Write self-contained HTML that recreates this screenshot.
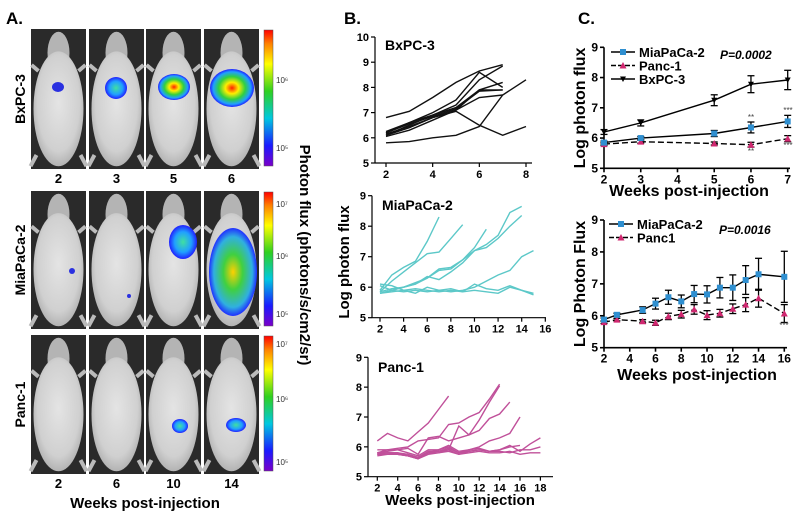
<!DOCTYPE html>
<html><head><meta charset="utf-8"><style>
body{margin:0;background:#fff}
svg{display:block;font-family:"Liberation Sans",Arial,sans-serif}
</style></head><body>
<svg id="fig" width="800" height="519" viewBox="0 0 800 519" xmlns="http://www.w3.org/2000/svg">
<defs>
<linearGradient id="cb" x1="0" y1="1" x2="0" y2="0">
<stop offset="0" stop-color="#7a00c8"/><stop offset="0.15" stop-color="#1a1aff"/><stop offset="0.35" stop-color="#00c8e0"/><stop offset="0.55" stop-color="#30d020"/><stop offset="0.75" stop-color="#ffff00"/><stop offset="0.9" stop-color="#ff8000"/><stop offset="1" stop-color="#ff0000"/>
</linearGradient>
<radialGradient id="blob"><stop offset="0" stop-color="#ff2000"/><stop offset="0.3" stop-color="#ffee00"/><stop offset="0.6" stop-color="#30d040"/><stop offset="0.85" stop-color="#20a0ff"/><stop offset="1" stop-color="#2020ff"/></radialGradient>
<radialGradient id="blobM"><stop offset="0" stop-color="#ffd000"/><stop offset="0.4" stop-color="#40d040"/><stop offset="0.8" stop-color="#30b0e0"/><stop offset="1" stop-color="#2030ff"/></radialGradient>
<radialGradient id="blobS"><stop offset="0" stop-color="#40e0a0"/><stop offset="0.6" stop-color="#20a0ff"/><stop offset="1" stop-color="#2020ff"/></radialGradient>
<radialGradient id="body" cx="0.5" cy="0.45" r="0.6"><stop offset="0" stop-color="#e4e4e4"/><stop offset="0.7" stop-color="#d0d0d0"/><stop offset="1" stop-color="#a8a8a8"/></radialGradient>
</defs>
<text x="6" y="24" font-size="17" font-weight="bold">A.</text>
<text x="344" y="24" font-size="17" font-weight="bold">B.</text>
<text x="578" y="24" font-size="17" font-weight="bold">C.</text>
<g id="pa"></g>
<g id="pb"></g>
<g id="pc"></g>
</svg>
<script>
// ---------- Panel B data ----------
const bxWeeks=[2,3,4,5,6,7,8];
const bxSeries=[
[6.8,7.05,7.6,8.2,8.65,8.9],
[5.8,5.85,6.0,6.1,6.45,7.7,8.3],
[6.2,6.6,7.0,7.5,8.6,8.0],
[6.1,6.5,6.9,7.3,8.3,8.85],
[6.15,6.45,6.8,7.1,7.9,8.2],
[6.05,6.3,6.7,7.1,7.6,7.7],
[6.25,6.6,6.9,7.2,7.9,7.9],
[6.1,6.4,6.8,7.05,6.5,6.1,6.45],
[6.2,6.55,6.85,7.15,7.85,7.9]];
const miaWeeks=[2,3,4,5,6,7,8,9,10,11,12,13,14,15];
const miaSeries=[
[5.9,6.4,6.65,6.85,7.5,8.3],
[5.85,6.2,6.5,6.8,7.1,7.15,7.6,8.05],
[5.8,5.9,6.0,6.1,6.3,6.6,6.65,6.9,7.3,7.9],
[5.85,5.95,6.0,6.15,6.3,6.55,6.6,6.9,7.2,7.4,7.7,8.45,8.65],
[5.8,5.9,6.0,6.1,6.35,6.25,6.5,6.8,7.2,7.3,7.6,8.0,8.35],
[6.05,5.9,5.85,5.9,5.85,5.9,5.85,5.9,6.0,6.2,6.4,6.55,7.0,7.2],
[6.1,6.05,5.9,5.8,6.0,5.9,5.95,5.85,6.1,5.95,5.9,6.05,5.9,5.75],
[5.8,5.85,5.9,5.95,5.9,5.85,5.9,5.85,5.9,5.85,5.8,6.0,5.9,5.8]];
const pancWeeks=[2,3,4,5,6,7,8,9,10,11,12,13,14,15,16,17,18];
const pancSeries=[
[6.2,6.45,6.3,6.2,6.5,6.8,7.25,7.7],
[5.8,5.85,5.9,5.95,5.75,6.3,6.35,6.2,6.3,6.4,6.9,7.5,8.05],
[5.8,5.9,5.95,6.0,6.2,6.25,6.3,6.75,6.8,7.0,7.15,7.6,8.1],
[5.75,5.8,5.8,5.7,5.6,5.8,5.85,5.9,6.7,6.4,6.55,6.95,7.1,7.5],
[5.75,5.8,5.75,5.7,5.65,5.8,5.9,6.0,5.8,5.9,6.0,6.2,6.3,6.45,7.0],
[5.7,5.75,5.75,5.7,5.6,5.75,5.8,5.9,5.75,5.85,5.9,5.85,5.9,6.05,5.85,6.1,6.3],
[5.8,5.8,5.8,5.75,5.65,5.85,5.85,5.95,5.8,5.85,5.9,5.85,5.85,5.8,5.9,5.9,6.0],
[5.75,5.75,5.75,5.7,5.6,5.8,5.8,5.85,5.75,5.8,5.85,5.8,5.8,5.85,5.75,5.8,5.8],
[5.9,5.9,5.9,5.8,5.7,5.9,5.9,6.05,5.85,5.9,5.95,5.85,5.9,6.0,6.05]];
// ---------- Panel C data ----------
const cTopWeeks=[2,3,5,6,7];
const cTopMia=[5.85,6.0,6.15,6.35,6.55];
const cTopMiaErr=[0.05,0.05,0.1,0.18,0.2];
const cTopPanc=[5.8,5.88,5.82,5.78,5.98];
const cTopPancErr=[0.05,0.05,0.05,0.08,0.1];
const cTopBx=[6.2,6.5,7.25,7.78,7.92];
const cTopBxErr=[0.08,0.1,0.18,0.28,0.32];
const cBotWeeks=[2,3,5,6,7,8,9,10,11,12,13,14,16];
const cBotMia=[5.88,6.03,6.18,6.38,6.58,6.45,6.68,6.67,6.88,6.88,7.12,7.3,7.22];
const cBotMiaErr=[0.05,0.05,0.1,0.17,0.22,0.2,0.27,0.27,0.32,0.4,0.45,0.5,0.8];
const cBotPanc=[5.8,5.88,5.83,5.78,5.98,6.05,6.2,6.02,6.08,6.22,6.35,6.55,6.07];
const cBotPancErr=[0.04,0.04,0.05,0.08,0.1,0.12,0.15,0.14,0.12,0.15,0.22,0.28,0.28];
const bxTicks=[2,4,6,8], miaTicks=[2,4,6,8,10,12,14,16], pancTicks=[2,4,6,8,10,12,14,16,18];
const cTopTicks=[2,3,4,5,6,7], cBotTicks=[2,4,6,8,10,12,14,16];

const NS="http://www.w3.org/2000/svg";
function mk(parent,tag,attrs,txt){const e=document.createElementNS(NS,tag);for(const k in attrs)e.setAttribute(k,attrs[k]);if(txt!==undefined)e.textContent=txt;parent.appendChild(e);return e;}

// ---------- Panel A ----------
const pa=document.getElementById('pa');
const colsX=[31,89,146,204], colW=55;
const rows=[{y:29,h:140,name:'BxPC-3',labs:['2','3','5','6']},{y:191,h:138,name:'MiaPaCa-2',labs:null},{y:335,h:139,name:'Panc-1',labs:['2','6','10','14']}];
const blobs=[
 [[58,87,6,5,'#2a30e0'],[116,88,11,11,'url(#blobS)'],[174,87,16,13,'url(#blob)'],[232,88,22,19,'url(#blob)']],
 [[72,271,3,3,'#2a30e0'],[129,296,2,2,'#2a30e0'],[183,242,14,17,'url(#blobS)'],[233,272,24,44,'url(#blobM)']],
 [[58,420,0,0,'#000'],[116,420,0,0,'#000'],[180,426,8,7,'url(#blobS)'],[236,425,10,7,'url(#blobS)']]];
rows.forEach((r,ri)=>{
 colsX.forEach((x,ci)=>{
  const g=mk(pa,'g',{});
  
  
  mk(g,'rect',{x:x,y:r.y,width:colW,height:r.h,fill:'#2a2a2a'});
  const cx=x+colW/2;
  mk(g,'ellipse',{cx:cx,cy:r.y+r.h*0.17,rx:11,ry:r.h*0.15,fill:'#b4b4b4'});
  mk(g,'ellipse',{cx:cx,cy:r.y+r.h*0.57,rx:25,ry:r.h*0.41,fill:'url(#body)'});
  mk(g,'path',{d:`M${cx-22} ${r.y+r.h*0.9} l-6 ${r.h*0.08} M${cx+22} ${r.y+r.h*0.9} l6 ${r.h*0.08} M${cx-20} ${r.y+r.h*0.3} l-7 -6 M${cx+20} ${r.y+r.h*0.3} l7 -6`,stroke:'#bbb','stroke-width':4,fill:'none'});
  const b=blobs[ri][ci];
  if(b[2]>0)mk(g,'ellipse',{cx:b[0],cy:b[1],rx:b[2],ry:b[3],fill:b[4]});
 });
 const cb=mk(pa,'rect',{x:264,y:r.y+1,width:9,height:r.h-4,fill:'url(#cb)',stroke:'#555','stroke-width':0.5});
 
 
 const rl=mk(pa,'text',{x:0,y:0,transform:`translate(25,${r.y+r.h/2}) rotate(-90)`,'text-anchor':'middle','font-size':14,'font-weight':'bold'},r.name);
 
 
 if(r.labs){r.labs.forEach((l,i)=>{const t=mk(pa,'text',{x:colsX[i]+colW/2,y:r.y+r.h+14,'text-anchor':'middle','font-size':13,'font-weight':'bold'},l);
  
  });}
});
[[276,83,'10⁶'],[276,151,'10⁵'],[276,207,'10⁷'],[276,259,'10⁶'],[276,317,'10⁵'],[276,347,'10⁷'],[276,402,'10⁶'],[276,465,'10⁵']].forEach(c=>{
 const t=mk(pa,'text',{x:c[0],y:c[1],'font-size':8,fill:'#333'},c[2]);
 
 });
const wx=mk(pa,'text',{x:145,y:508,'text-anchor':'middle','font-size':15,'font-weight':'bold'},'Weeks post-injection');


const pf=mk(pa,'text',{x:0,y:0,transform:'translate(300,255) rotate(90)','text-anchor':'middle','font-size':15,'font-weight':'bold'},'Photon flux (photons/s/cm2/sr)');



// ---------- generic axes ----------
function axes(parent,o){
 const g=mk(parent,'g',{});
 
 
 const X=v=>o.x0+(v-o.xd[0])*(o.x1-o.x0)/(o.xd[1]-o.xd[0]);
 const Y=v=>o.y0+(v-o.yd[0])*(o.y1-o.y0)/(o.yd[1]-o.yd[0]);
 mk(g,'line',{x1:o.ax,y1:Y(o.yd[1]),x2:o.ax,y2:o.y0,stroke:'#000','stroke-width':o.sw||1});
 mk(g,'line',{x1:o.ax,y1:o.y0,x2:o.xend,y2:o.y0,stroke:'#000','stroke-width':o.sw||1});
 for(let v=o.yd[0];v<=o.yd[1];v++){
  mk(g,'line',{x1:o.ax-4,y1:Y(v),x2:o.ax,y2:Y(v),stroke:'#000','stroke-width':o.sw||1});
  const t=mk(g,'text',{x:o.ax-6,y:Y(v)+4,'text-anchor':'end','font-size':o.fs,'font-weight':'bold'},String(v));
  
  
 }
 o.xt.forEach(v=>{
  mk(g,'line',{x1:X(v),y1:o.y0,x2:X(v),y2:o.y0+4,stroke:'#000','stroke-width':o.sw||1});
  const t=mk(g,'text',{x:X(v),y:o.y0+15,'text-anchor':'middle','font-size':o.fs,'font-weight':'bold'},String(v));
  
  
 });
 return {g,X,Y};
}
function pathOf(xs,ys,X,Y){return ys.map((v,i)=>(i?'L':'M')+X(xs[i]).toFixed(1)+' '+Y(v).toFixed(1)).join(' ');}

// ---------- Panel B ----------
const pb=document.getElementById('pb');
const bDefs=[
 {name:'bxpc3-chart',title:'BxPC-3',ax:375,x0:386,x1:526,xd:[2,8],xend:532,y0:163,y1:37,yd:[5,10],xt:bxTicks,weeks:bxWeeks,series:bxSeries,color:'#111',ty:50},
 {name:'miapaca2-chart',title:'MiaPaCa-2',ax:372,x0:380,x1:521.7,xd:[2,14],xend:546,y0:317.7,y1:195.7,yd:[5,9],xt:miaTicks,weeks:miaWeeks,series:miaSeries,color:'#5cc8c8',ty:210},
 {name:'panc1-chart',title:'Panc-1',ax:368,x0:377.3,x1:520,xd:[2,16],xend:553,y0:476.7,y1:357.3,yd:[5,9],xt:pancTicks,weeks:pancWeeks,series:pancSeries,color:'#c0509a',ty:372}];
bDefs.forEach(d=>{
 const a=axes(pb,{name:d.name,ax:d.ax,x0:d.x0,x1:d.x1,xd:d.xd,xend:d.xend,y0:d.y0,y1:d.y1,yd:d.yd,xt:d.xt,fs:11,sw:1.2});
 const tt=mk(a.g,'text',{x:d.ax+10,y:d.ty,'font-size':14,'font-weight':'bold'},d.title);
 
 
 d.series.forEach((s,i)=>{
  const p=mk(a.g,'path',{d:pathOf(d.weeks,s,a.X,a.Y),fill:'none',stroke:d.color,'stroke-width':1.4});
  
  
 });
});
const byt=mk(pb,'text',{x:0,y:0,transform:'translate(349,262) rotate(-90)','text-anchor':'middle','font-size':15,'font-weight':'bold'},'Log photon flux');


const bxt=mk(pb,'text',{x:460,y:505,'text-anchor':'middle','font-size':15,'font-weight':'bold'},'Weeks post-injection');



// ---------- Panel C ----------
const pc=document.getElementById('pc');
const blue='#2f8fd0', pink='#d02870';
function series(a,weeks,vals,errs,color,dash,marker,nm){
 const g=mk(a.g,'g',{});
 
 
 vals.forEach((v,i)=>{const x=a.X(weeks[i]);
  mk(g,'line',{x1:x,y1:a.Y(v-errs[i]),x2:x,y2:a.Y(v+errs[i]),stroke:'#000','stroke-width':1.3});
  mk(g,'line',{x1:x-3.5,y1:a.Y(v-errs[i]),x2:x+3.5,y2:a.Y(v-errs[i]),stroke:'#000','stroke-width':1.3});
  mk(g,'line',{x1:x-3.5,y1:a.Y(v+errs[i]),x2:x+3.5,y2:a.Y(v+errs[i]),stroke:'#000','stroke-width':1.3});});
 mk(g,'path',{d:pathOf(weeks,vals,a.X,a.Y),fill:'none',stroke:'#000','stroke-width':1.4,'stroke-dasharray':dash?'6 3':'none'});
 vals.forEach((v,i)=>{const x=a.X(weeks[i]),y=a.Y(v);
  if(marker==='sq')mk(g,'rect',{x:x-3,y:y-3,width:6,height:6,fill:color});
  else if(marker==='tri')mk(g,'path',{d:`M${x} ${y-3.5}L${x+3.5} ${y+3}L${x-3.5} ${y+3}Z`,fill:color});
  else mk(g,'path',{d:`M${x-3} ${y-2.5}L${x+3} ${y-2.5}L${x} ${y+3}Z`,fill:color});});
}
function legend(parent,x,y,items){
 items.forEach((it,i)=>{const g=mk(parent,'g',{});
  
  
  const yy=y+i*13.5;
  mk(g,'line',{x1:x,y1:yy,x2:x+24,y2:yy,stroke:'#000','stroke-width':1.4,'stroke-dasharray':it[2]?'5 2':'none'});
  if(it[3]==='sq')mk(g,'rect',{x:x+9,y:yy-3,width:6,height:6,fill:it[1]});
  else if(it[3]==='tri')mk(g,'path',{d:`M${x+12} ${yy-3.5}L${x+15.5} ${yy+3}L${x+8.5} ${yy+3}Z`,fill:it[1]});
  else mk(g,'path',{d:`M${x+9} ${yy-2.5}L${x+15} ${yy-2.5}L${x+12} ${yy+3}Z`,fill:it[1]});
  mk(g,'text',{x:x+28,y:yy+5,'font-size':13,'font-weight':'bold'},it[0]);});
}
const cT=axes(pc,{name:'panel-c-top-chart',ax:604,x0:604,x1:787.7,xd:[2,7],xend:790,y0:168.3,y1:47.3,yd:[5,9],xt:cTopTicks,fs:12,sw:1.6});
series(cT,cTopWeeks,cTopPanc,cTopPancErr,pink,true,'tri','series-panc1');
series(cT,cTopWeeks,cTopMia,cTopMiaErr,blue,false,'sq','series-miapaca2');
series(cT,cTopWeeks,cTopBx,cTopBxErr,'#000',false,'inv','series-bxpc3');
legend(cT.g,611,52,[['MiaPaCa-2',blue,false,'sq'],['Panc-1',pink,true,'tri'],['BxPC-3','#000',false,'inv']]);
const p1=mk(cT.g,'text',{x:720,y:59,'font-size':12,'font-weight':'bold','font-style':'italic'},'P=0.0002');


[[751,120,'**'],[751,154,'**'],[788,113,'***'],[788,148,'***']].forEach(s=>{mk(cT.g,'text',{x:s[0],y:s[1],'font-size':8,'text-anchor':'middle',fill:'#444'},s[2]);});
const ct1=mk(pc,'text',{x:0,y:0,transform:'translate(585,108) rotate(-90)','text-anchor':'middle','font-size':16,'font-weight':'bold'},'Log photon flux');


const cx1=mk(pc,'text',{x:689,y:196,'text-anchor':'middle','font-size':16,'font-weight':'bold'},'Weeks post-injection');



const cB=axes(pc,{name:'panel-c-bottom-chart',ax:604,x0:604,x1:784.3,xd:[2,16],xend:787,y0:347.7,y1:220,yd:[5,9],xt:cBotTicks,fs:12,sw:1.6});
series(cB,cBotWeeks,cBotPanc,cBotPancErr,pink,true,'tri','series-panc1');
series(cB,cBotWeeks,cBotMia,cBotMiaErr,blue,false,'sq','series-miapaca2');
legend(cB.g,609,224,[['MiaPaCa-2',blue,false,'sq'],['Panc1',pink,true,'tri']]);
const p2=mk(cB.g,'text',{x:719,y:234,'font-size':12,'font-weight':'bold','font-style':'italic'},'P=0.0016');


mk(cB.g,'text',{x:784,y:328,'font-size':8,'text-anchor':'middle',fill:'#444'},'***');
const ct2=mk(pc,'text',{x:0,y:0,transform:'translate(585,284) rotate(-90)','text-anchor':'middle','font-size':16,'font-weight':'bold'},'Log Photon Flux');


const cx2=mk(pc,'text',{x:697,y:380,'text-anchor':'middle','font-size':16,'font-weight':'bold'},'Weeks post-injection');


</script>
</body></html>
